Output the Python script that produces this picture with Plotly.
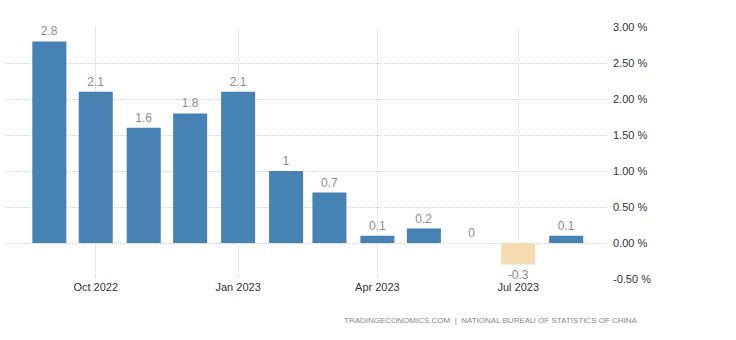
import plotly.graph_objects as go

months = ["2022-09-01", "2022-10-01", "2022-11-01", "2022-12-01", "2023-01-01", "2023-02-01",
          "2023-03-01", "2023-04-01", "2023-05-01", "2023-06-01", "2023-07-01", "2023-08-01"]
values = [2.8, 2.1, 1.6, 1.8, 2.1, 1.0, 0.7, 0.1, 0.2, 0.0, -0.3, 0.1]
labels = ["2.8", "2.1", "1.6", "1.8", "2.1", "1", "0.7", "0.1", "0.2", "0", "-0.3", "0.1"]
y_ticks = [3.0, 2.5, 2.0, 1.5, 1.0, 0.5, 0.0, -0.5]
y_tick_text = ["3.00 %", "2.50 %", "2.00 %", "1.50 %", "1.00 %", "0.50 %", "0.00 %", "-0.50 %"]
x_ticks = ["2022-10-01", "2023-01-01", "2023-04-01", "2023-07-01"]
x_tick_text = ["Oct 2022", "Jan 2023", "Apr 2023", "Jul 2023"]

colors = ["#4682B4" if v >= 0 else "#F5DCB0" for v in values]

fig = go.Figure()
fig.add_trace(go.Bar(
    x=months, y=values, text=labels, textposition="outside",
    textfont=dict(color="#8c8c8c", size=12, family="Liberation Sans, Arial"),
    marker=dict(color=colors, line=dict(width=0)),
    width=22 * 86400000, cliponaxis=False, hoverinfo="skip",
))

fig.update_layout(
    width=736, height=340,
    margin=dict(l=6, r=128, t=27, b=61),
    paper_bgcolor="white", plot_bgcolor="white",
    showlegend=False,
    font=dict(family="Liberation Sans, Arial", color="#333333"),
    xaxis=dict(
        type="date", range=["2022-08-04", "2023-08-28"],
        tickmode="array", tickvals=x_ticks, ticktext=x_tick_text,
        showgrid=True, gridcolor="#d9d9d9", griddash="1px,1px", gridwidth=1,
        showline=False, zeroline=False, ticks="", tickfont=dict(size=11, color="#333333"),
    ),
    yaxis=dict(
        side="right", range=[-0.5, 3.0],
        tickmode="array", tickvals=y_ticks, ticktext=y_tick_text,
        showgrid=True, gridcolor="#d0d0d0", griddash="1px,1px", gridwidth=1,
        zeroline=False, showline=False, ticks="", ticklabelstandoff=4,
        tickfont=dict(size=11, color="#333333"),
    ),
    annotations=[dict(
        text="TRADINGECONOMICS.COM  |  NATIONAL BUREAU OF STATISTICS OF CHINA",
        xref="paper", yref="paper", x=1.053, y=-0.165, xanchor="right", yanchor="middle",
        showarrow=False, font=dict(size=8, color="#888888", family="Liberation Sans, Arial"),
    )],
)

fig.write_html("out.html")
